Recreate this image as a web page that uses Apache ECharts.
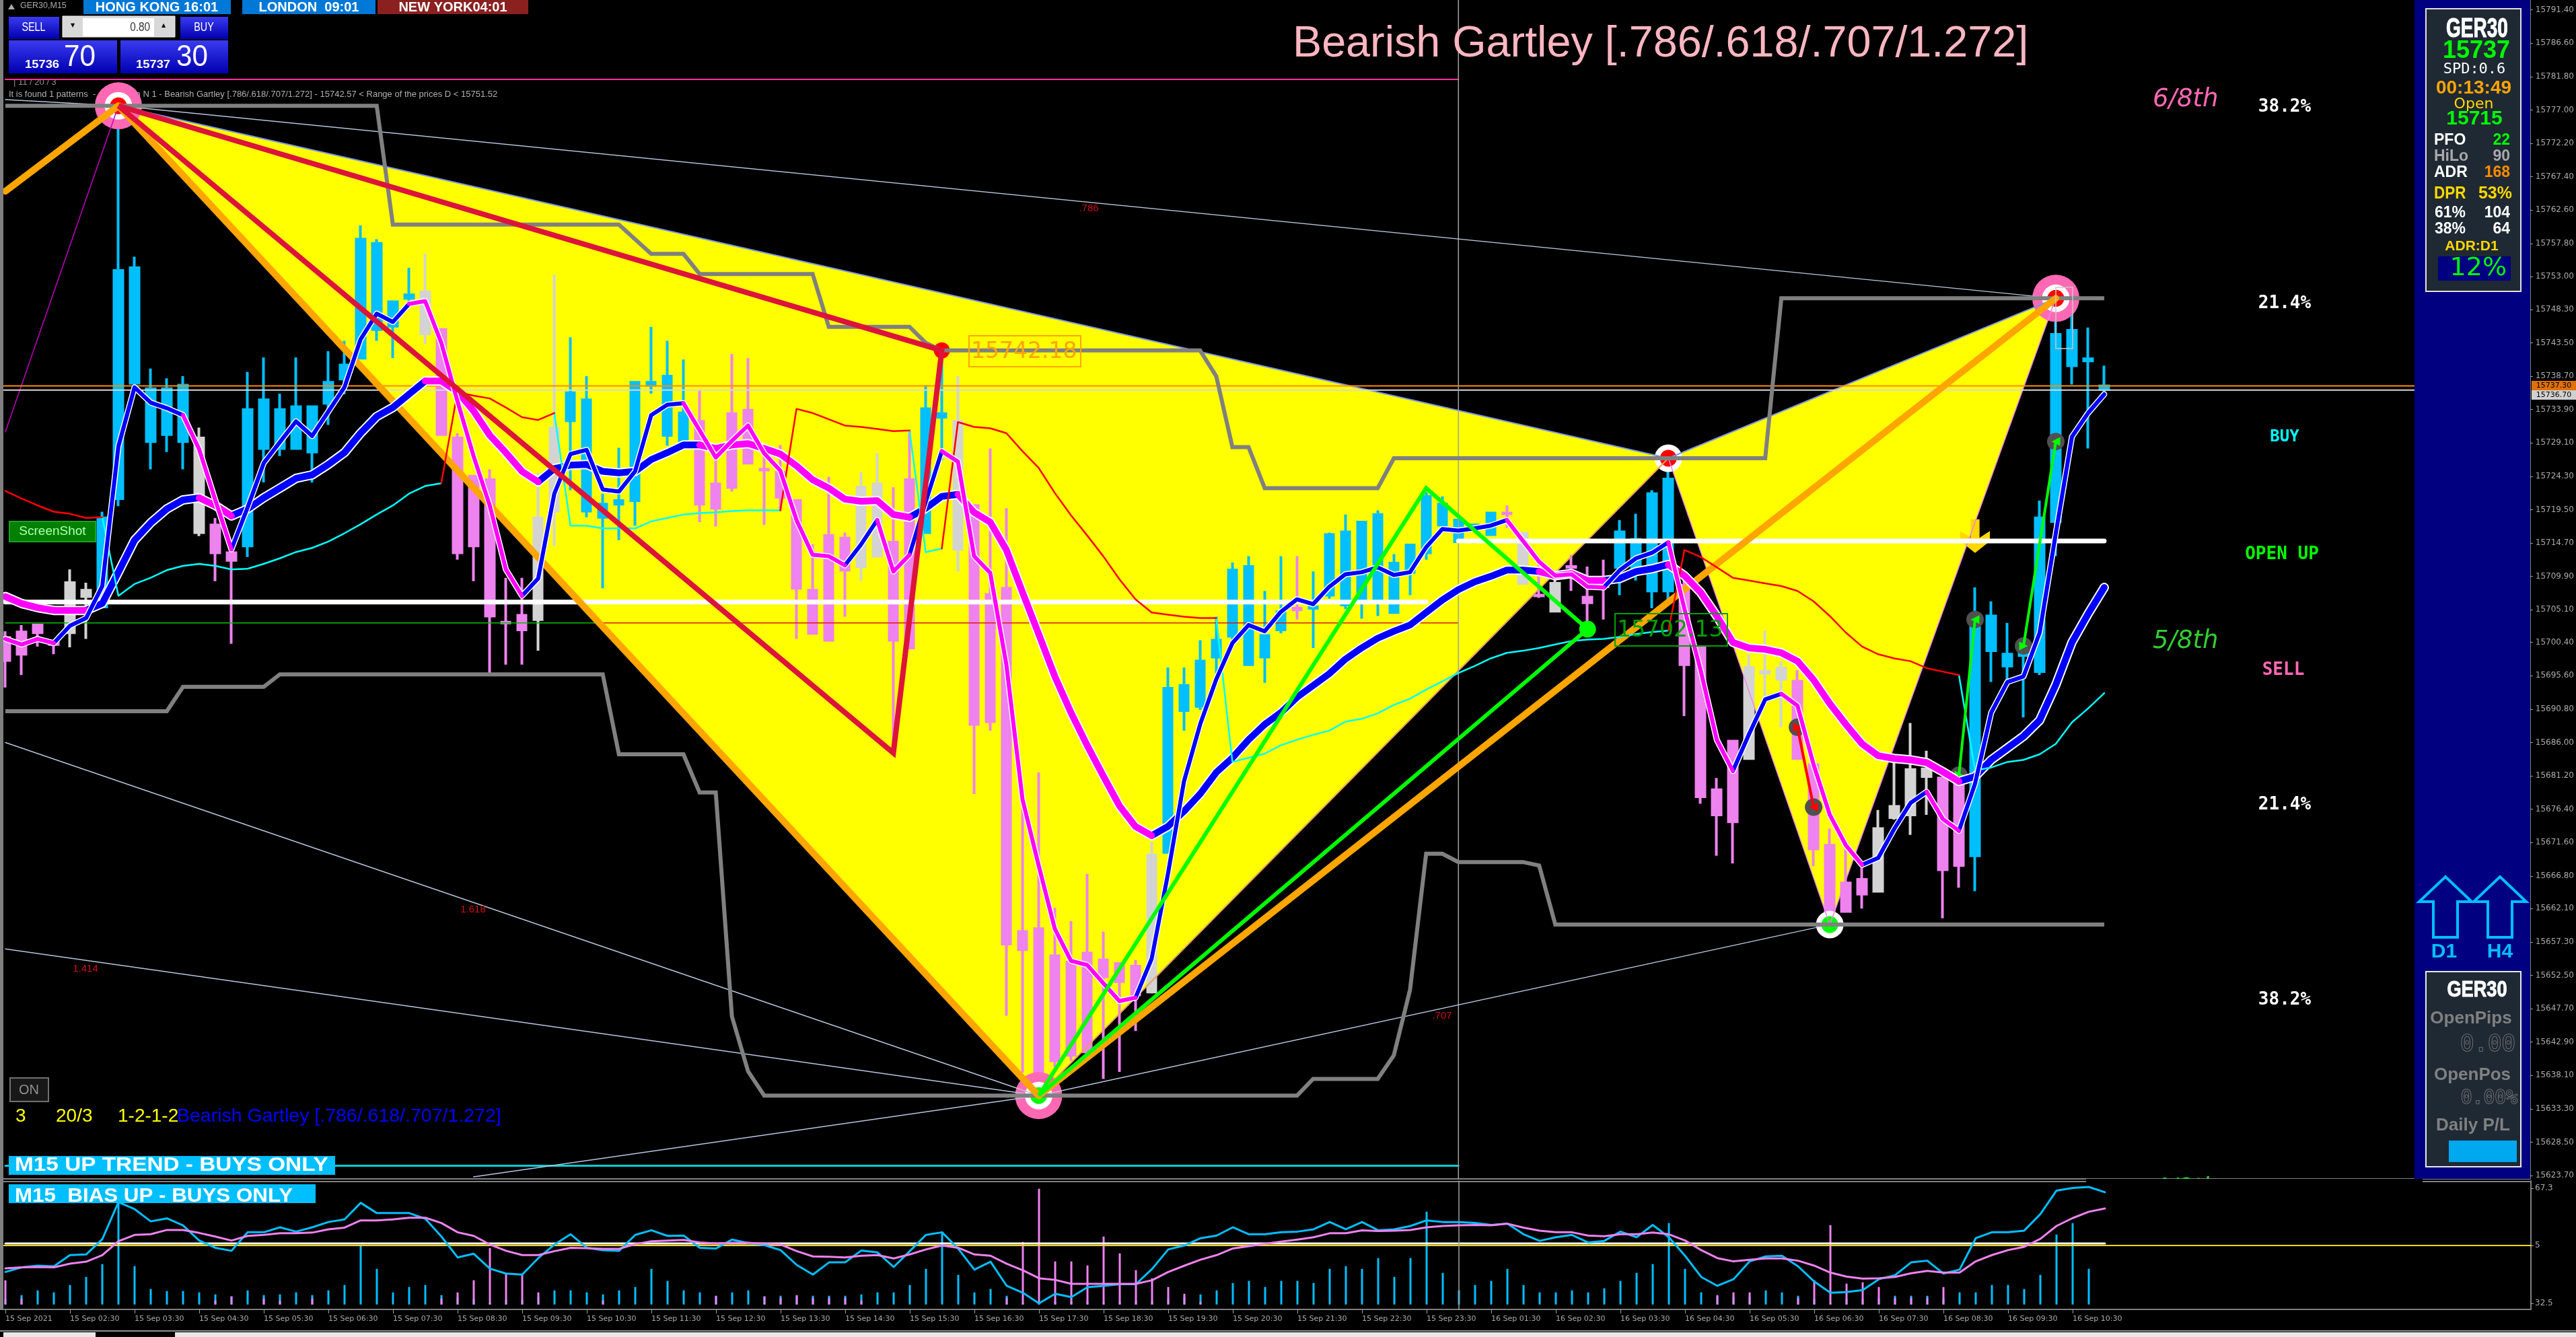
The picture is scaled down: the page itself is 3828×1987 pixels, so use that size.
<!DOCTYPE html>
<html><head><meta charset="utf-8">
<style>html,body{margin:0;padding:0;background:#000}#c{width:3828px;height:1987px}</style>
<script src="https://cdn.jsdelivr.net/npm/echarts@6/dist/echarts.min.js"></script>
</head><body><div id="c"></div>
<script>
const opens=[15701.1,15701.9,15702.9,15700.4,15701.8,15707.0,15705.5,15721.1,15737.7,15729.3,
15730.3,15729.3,15729.8,15717.3,15713.3,15714.3,15728.3,15728.3,15728.3,15727.8,
15734.8,15738.3,15741.3,15745.4,15745.9,15749.9,15750.8,15745.4,15729.8,15724.3,
15723.8,15703.3,15704.3,15703.7,15719.3,15732.3,15719.3,15718.4,15720.3,15720.8,
15737.4,15730.2,15729.4,15732.2,15723.2,15733.3,15733.8,15725.3,15724.9,15720.8,
15707.9,15715.8,15715.4,15722.7,15723.2,15714.8,15723.8,15716.2,15732.8,15732.2,
15720.1,15707.3,15708.2,15658.8,15659.2,15655.3,15654.4,15655.7,15654.7,15654.2,
15653.8,15669.8,15670.2,15690.6,15691.2,15698.3,15701.3,15697.2,15698.3,15702.2,
15705.3,15705.3,15707.2,15705.8,15706.2,15706.4,15704.7,15710.5,15713.3,15717.3,
15714.9,15717.0,15715.9,15719.0,15716.1,15707.2,15708.9,15711.3,15706.9,15708.5,
15711.2,15710.6,15707.8,15707.8,15708.6,15699.8,15679.2,15686.2,15696.8,15696.0,
15696.7,15694.8,15682.8,15671.2,15665.8,15666.3,15664.6,15675.2,15675.6,15681.1,
15680.9,15680.4,15669.7,15699.2,15697.0,15698.5,15696.2,15717.8,15740.2,15740.9,15736.8];
const closes=[15697.8,15698.7,15701.8,15700.1,15709.0,15707.9,15718.3,15753.9,15754.3,15736.9,
15736.9,15737.4,15716.2,15713.3,15712.2,15733.9,15735.3,15733.9,15734.3,15734.3,
15737.8,15740.3,15758.4,15757.8,15749.4,15750.4,15744.8,15730.3,15713.3,15714.3,
15704.2,15703.2,15702.2,15718.3,15731.2,15736.3,15735.3,15720.3,15720.8,15737.8,
15737.8,15738.7,15733.4,15720.3,15719.7,15722.7,15726.2,15725.2,15721.3,15708.2,
15701.7,15700.7,15710.8,15711.3,15712.8,15700.7,15699.6,15734.0,15733.3,15713.8,
15688.6,15689.0,15657.0,15656.2,15638.5,15640.2,15641.0,15641.5,15652.3,15651.6,
15649.7,15650.1,15693.8,15694.2,15697.7,15700.7,15710.8,15711.3,15701.4,15704.8,
15705.1,15705.5,15715.9,15716.3,15717.7,15718.8,15711.8,15714.4,15721.4,15720.3,
15718.0,15717.3,15719.0,15718.9,15708.9,15707.1,15704.9,15711.2,15706.1,15708.4,
15716.3,15715.2,15721.8,15723.9,15697.2,15678.2,15675.6,15674.6,15683.7,15696.2,
15695.1,15683.7,15670.7,15660.0,15661.7,15664.2,15673.6,15676.8,15682.1,15682.2,
15667.7,15668.3,15703.7,15704.2,15698.7,15699.8,15718.3,15744.7,15745.3,15741.2,15737.3];
const lows=[15693.9,15695.7,15699.8,15698.7,15699.7,15700.9,15705.3,15720.0,15737.1,15725.3,
15727.8,15725.3,15715.7,15709.2,15700.2,15712.7,15723.4,15727.2,15728.2,15723.4,
15731.7,15736.1,15741.3,15743.8,15741.3,15748.5,15743.3,15730.3,15712.3,15709.2,
15695.7,15697.2,15697.2,15699.2,15714.3,15722.3,15718.4,15708.2,15715.1,15717.2,
15736.2,15728.7,15729.2,15717.7,15717.1,15722.1,15726.2,15717.3,15719.3,15700.9,
15701.7,15700.7,15704.1,15709.3,15712.8,15685.6,15699.6,15716.2,15726.6,15710.6,
15678.6,15687.7,15646.7,15638.5,15635.2,15639.3,15640.2,15641.0,15637.6,15638.6,
15644.5,15649.9,15670.2,15687.7,15690.7,15695.9,15700.7,15697.2,15694.6,15701.7,
15703.7,15699.6,15706.7,15705.2,15703.8,15704.2,15704.7,15707.2,15712.3,15717.3,
15714.9,15716.8,15715.9,15716.9,15708.9,15706.8,15704.9,15707.8,15702.8,15703.7,
15707.2,15709.3,15705.3,15705.9,15689.8,15677.2,15669.7,15668.6,15683.7,15691.6,
15688.2,15683.7,15668.2,15659.8,15661.7,15662.1,15664.6,15674.9,15672.7,15675.6,
15660.7,15665.1,15664.6,15694.7,15695.0,15689.6,15695.7,15712.8,15737.5,15728.3,15736.3];
const highs=[15702.0,15702.9,15702.9,15700.6,15710.9,15709.0,15719.2,15777.6,15755.9,15739.8,
15738.4,15738.7,15731.3,15718.3,15713.9,15739.3,15741.4,15736.2,15741.4,15734.3,
15742.3,15743.8,15760.4,15758.4,15749.5,15754.3,15756.3,15745.4,15730.5,15724.3,
15725.3,15709.7,15709.7,15724.8,15753.3,15744.3,15738.7,15721.8,15728.4,15737.8,
15745.8,15743.8,15741.1,15736.8,15726.6,15741.9,15741.3,15728.8,15728.8,15720.8,
15714.5,15724.2,15716.2,15724.9,15727.6,15722.7,15730.9,15737.4,15742.6,15738.7,
15720.1,15728.3,15719.7,15678.6,15681.7,15662.2,15660.3,15667.1,15658.8,15654.2,
15654.7,15671.7,15696.8,15696.8,15700.7,15704.1,15711.9,15712.8,15707.8,15712.8,
15712.8,15710.6,15716.2,15718.8,15717.7,15719.4,15713.1,15714.4,15722.0,15721.4,
15718.0,15717.5,15719.0,15720.1,15716.1,15711.6,15709.6,15713.0,15711.3,15712.3,
15718.0,15718.9,15722.3,15726.9,15710.6,15699.8,15680.9,15686.2,15698.7,15702.1,
15697.7,15696.4,15682.8,15673.6,15670.6,15668.2,15676.3,15683.1,15688.8,15684.8,
15680.9,15680.4,15708.3,15706.3,15703.2,15699.8,15720.8,15749.9,15748.3,15745.7,15740.2];
const greyBars=[4,5,12,26,33,34,53,54,59,71,94,96,108,109,110,116,117,118,119];
const fastMA=[15700.9,15700.1,15700.9,15700.3,15702.8,15703.9,15708.5,15728.6,15737.1,15734.9,
15734.1,15733.1,15728.2,15720.9,15713.8,15719.8,15726.2,15729.2,15732.2,15730.1,
15733.6,15737.1,15744.0,15747.7,15746.5,15749.1,15749.5,15743.5,15735.1,15727.2,
15720.1,15710.9,15707.1,15709.6,15721.8,15727.5,15728.1,15722.4,15722.1,15725.0,
15733.1,15734.6,15734.8,15730.9,15727.0,15729.4,15731.6,15727.6,15725.1,15718.0,
15713.0,15712.8,15711.5,15714.5,15718.0,15710.6,15713.0,15720.6,15727.9,15726.4,
15712.8,15710.4,15697.2,15677.8,15668.3,15659.2,15654.6,15654.0,15651.4,15648.8,
15649.3,15654.9,15667.0,15680.4,15688.6,15695.1,15700.3,15702.9,15702.0,15704.8,
15706.6,15705.9,15708.4,15710.2,15710.5,15711.2,15710.1,15710.5,15714.1,15716.7,
15716.5,15716.8,15717.2,15718.0,15715.0,15712.0,15710.0,15710.2,15708.4,15708.3,
15710.8,15712.5,15713.3,15714.8,15705.2,15696.4,15686.4,15681.9,15687.2,15692.2,
15693.0,15691.3,15682.8,15675.6,15671.2,15668.4,15669.4,15673.6,15677.3,15678.9,
15675.0,15673.3,15680.1,15690.3,15694.7,15695.5,15701.8,15716.1,15730.0,15733.4,15736.1];
const slowMA=[15707.0,15706.0,15705.4,15705.0,15705.0,15705.0,15706.0,15710.5,15715.1,15717.6,
15719.6,15720.9,15721.2,15720.1,15718.6,15719.6,15721.2,15722.6,15724.0,15724.5,
15726.0,15727.7,15730.5,15732.9,15734.2,15736.1,15738.0,15738.0,15736.5,15733.7,
15730.2,15727.7,15725.0,15723.5,15725.4,15725.9,15726.0,15725.0,15724.8,15725.0,
15726.7,15727.7,15728.8,15728.8,15728.3,15728.8,15729.0,15728.3,15727.5,15725.8,
15723.8,15722.6,15721.0,15720.7,15720.8,15718.8,15718.4,15719.7,15721.4,15721.7,
15719.1,15717.7,15713.7,15707.6,15701.6,15695.5,15690.3,15685.6,15681.2,15676.9,
15673.9,15672.6,15673.9,15676.1,15678.6,15681.7,15683.8,15686.4,15688.6,15690.3,
15692.5,15694.2,15695.9,15698.0,15699.6,15701.0,15702.0,15702.9,15704.7,15706.5,
15708.0,15709.1,15709.9,15710.8,15710.8,15710.6,15710.0,15710.3,15709.3,15709.3,
15709.6,15710.6,15711.0,15711.6,15710.0,15707.6,15704.2,15700.4,15699.6,15699.4,
15698.9,15697.7,15695.0,15691.6,15688.6,15685.8,15684.1,15683.7,15683.5,15683.1,
15681.8,15680.4,15681.1,15683.5,15685.2,15686.9,15689.2,15694.3,15700.4,15704.5,15708.3];
const flipLine=[15722.2,15721.1,15720.1,15719.2,15718.9,15718.3,15718.4,15707.1,15708.8,15709.7,
15710.8,15711.4,15711.7,15711.4,15710.9,15711.0,15711.7,15712.5,15713.4,15714.0,
15714.9,15716.1,15717.4,15718.8,15720.1,15721.8,15722.9,15723.3,15736.4,15735.9,
15735.5,15734.2,15732.8,15732.4,15733.4,15717.2,15717.2,15716.8,15716.8,15716.8,
15717.8,15718.3,15718.8,15719.0,15719.1,15719.3,15719.4,15719.4,15719.4,15734.0,
15733.4,15732.5,15731.6,15731.4,15731.1,15730.8,15730.9,15713.4,15713.9,15732.1,
15731.4,15731.2,15730.5,15727.9,15725.5,15721.9,15718.7,15715.8,15712.8,15709.5,
15706.6,15704.7,15704.4,15704.1,15703.9,15703.9,15683.2,15683.8,15684.4,15685.6,
15686.4,15687.1,15687.7,15689.0,15689.4,15690.2,15691.4,15692.3,15693.6,15694.8,
15696.0,15697.0,15698.1,15698.9,15699.2,15699.6,15700.1,15700.6,15700.8,15700.9,
15701.2,15701.6,15701.9,15702.1,15713.7,15712.7,15711.2,15709.7,15709.3,15708.9,
15708.5,15707.8,15706.3,15704.2,15701.8,15699.8,15698.7,15698.1,15697.7,15696.7,
15696.2,15695.7,15682.0,15682.4,15683.2,15683.5,15684.3,15685.8,15688.9,15690.9,15693.1];
const fastFallRanges=[[0,3],[11,14],[25,32],[42,52],[54,56],[58,70],[93,99],[103,107],[110,115],[119,121]];
const slowFallRanges=[[0,5],[12,14],[26,33],[43,56],[59,71],[95,99],[103,121]];
const flipRedRanges=[[0,6],[27,34],[48,56],[58,75],[103,121]];
const rsiFast=[42.0,43.4,43.9,43.7,47.1,47.3,51.9,63.1,61.0,57.3,58.2,56.1,51.5,49.3,48.4,54.0,54.0,55.5,54.2,55.5,
57.1,57.9,62.9,59.8,59.8,59.8,58.1,52.7,46.4,47.5,43.0,41.5,41.2,46.2,50.3,53.4,49.3,48.6,48.4,53.2,54.6,52.9,
53.0,49.3,49.1,51.8,50.7,50.1,48.6,44.1,41.2,44.9,44.9,48.5,47.9,43.5,48.3,53.2,54.0,49.0,42.7,45.1,37.8,35.7,32.5,35.4,34.4,37.4,37.8,38.3,38.3,
42.9,48.8,50.0,52.2,53.0,55.5,53.4,53.4,54.0,54.2,54.9,57.1,54.9,57.1,
54.6,54.9,55.9,57.6,57.1,57.1,56.8,56.2,56.6,53.4,51.4,52.5,53.2,50.9,51.4,54.2,52.5,56.2,52.5,46.9,40.5,37.8,39.8,45.2,46.7,46.9,43.7,39.1,35.7,35.9,36.5,39.8,41.0,44.9,45.4,41.5,42.7,52.2,54.0,54.0,54.5,59.5,66.6,67.4,67.7,66.1];
const rsiSlow=[43.1,43.4,43.5,43.4,44.5,45.1,47.1,51.3,53.2,53.4,54.7,54.7,53.8,52.7,51.5,52.9,53.2,53.7,53.7,53.9,
54.9,55.4,57.6,57.6,57.9,58.4,58.4,56.8,54.0,52.9,50.3,48.4,47.1,47.1,48.3,49.3,49.2,49.0,49.0,50.4,51.3,51.5,
51.7,50.9,50.6,50.8,50.8,50.5,50.3,48.3,46.7,46.6,46.4,46.9,47.1,46.1,47.3,48.8,50.0,49.3,47.3,46.9,44.5,42.5,40.1,39.6,38.4,38.4,38.4,38.4,38.4,
39.5,42.0,43.9,45.7,47.1,49.1,49.8,50.5,51.2,51.8,52.5,53.7,53.7,54.6,
54.4,54.5,54.7,55.5,55.9,56.1,56.2,56.1,56.6,55.4,54.5,54.0,54.0,53.0,52.8,53.4,53.4,53.9,53.4,51.5,48.6,46.2,45.2,45.7,46.1,46.1,45.4,43.9,41.8,40.6,40.0,40.1,40.5,41.6,42.3,41.8,41.8,45.2,47.1,48.6,49.6,52.0,55.9,58.3,60.2,61.2];
const volUp=[8,14,21,18,29,41,60,152,57,23,20,20,18,15,12,21,14,15,18,14,21,29,87,53,18,26,29,14,11,8,3,7,7,11,21,21,18,15,21,26,53,35,
21,18,12,18,21,12,13,12,13,13,13,15,18,18,29,53,107,44,18,23,13,3,2,5,5,5,3,5,6,6,9,11,15,21,32,35,26,35,35,32,53,57,53,
69,41,69,138,47,21,29,35,53,29,18,18,21,18,24,35,47,60,121,53,18,12,11,11,21,18,13,8,3,8,8,9,13,13,13,9,18,18,29,29,23,44,104,121,53,0];
const volDown=[36,9,0,0,0,0,0,0,0,0,0,0,0,6,12,0,9,6,0,9,0,0,0,0,0,0,0,9,18,36,84,46,46,18,0,0,0,6,0,0,0,0,
0,0,13,0,0,12,10,14,10,10,10,6,0,0,0,0,0,0,0,0,10,93,172,64,64,58,101,76,51,39,26,16,4,0,0,0,0,0,0,0,0,0,0,
0,0,0,0,0,0,0,0,0,0,0,0,0,0,0,0,0,0,0,0,0,14,18,18,0,0,10,36,118,31,33,26,10,10,10,26,0,0,0,0,0,0,0,0,0,0];
const priceTicks=[15791.40,15786.60,15781.80,15777.00,15772.20,15767.40,15762.60,15757.80,15753.00,15748.30,15743.50,15738.70,15733.90,15729.10,15724.30,15719.50,15714.70,15709.90,15705.10,15700.40,15695.60,15690.80,15686.00,15681.20,15676.40,15671.60,15666.80,15662.10,15657.30,15652.50,15647.70,15642.90,15638.10,15633.30,15628.50,15623.70];
const timeTicks=[0,4,8,12,16,20,24,28,32,36,40,44,48,52,56,60,64,68,72,76,80,84,88,92,96,100,104,108,112,116,120,124,128];
const timeLabels=['15 Sep 2021','15 Sep 02:30','15 Sep 03:30','15 Sep 04:30','15 Sep 05:30','15 Sep 06:30','15 Sep 07:30','15 Sep 08:30','15 Sep 09:30','15 Sep 10:30','15 Sep 11:30','15 Sep 12:30','15 Sep 13:30','15 Sep 14:30','15 Sep 15:30','15 Sep 16:30','15 Sep 17:30','15 Sep 18:30','15 Sep 19:30','15 Sep 20:30','15 Sep 21:30','15 Sep 22:30','15 Sep 23:30','16 Sep 01:30','16 Sep 02:30','16 Sep 03:30','16 Sep 04:30','16 Sep 05:30','16 Sep 06:30','16 Sep 07:30','16 Sep 08:30','16 Sep 09:30','16 Sep 10:30'];
const rsiTicks=[67.3,50,32.5];
const rsiTickLabels=['67.3','5','32.5'];
const pivotBar=[7,64,103,113,127];
const pivotPrice=[15777.6,15635.2,15726.9,15659.8,15749.9];
const crimsonLeg=[[7,15777.6],[55,15684.5],[58,15742.4],[7,15777.6]];
const limeLeg=[[64,15635.2],[88,15722.6],[98,15702.3],[64,15635.2]];
const upperBand=[[0,15777.6],[23,15777.6],[24,15760.5],[38,15760.5],[40,15756.3],[42,15756.3],[43,15753.4],[50,15753.4],[51,15745.8],[56,15745.8],[57,15743.5],[58,15742.4],[74,15742.4],[75,15738.7],[76,15728.5],[77,15728.5],[78,15722.6],[85,15722.6],[86,15726.9],[109,15726.9],[110,15749.9],[130,15749.9]];
const lowerBand=[[0,15690.5],[10,15690.5],[11,15694],[16,15694],[17,15695.8],[37,15695.8],[38,15684.3],[42,15684.3],[43,15678.8],[44,15678.8],[45,15646.6],[46,15638.7],[47,15635.2],[80,15635.2],[81,15637.6],[85,15637.6],[86,15641],[87,15650.4],[88,15670],[89,15670],[90,15668.8],[94,15668.8],[95,15668.3],[96,15659.8],[130,15659.8]];
const thinLines=[[[0,15778.5],[7,15777.6],[127,15749.9]],[[0,15686],[64,15635.2]],[[0,15656.3],[64,15635.2]],[[29,15623.5],[64,15635.2]],[[64,15635.2],[113,15659.8]]];
const levels={pink:15781.4,askLine:15737.3,bidLine:15736.7,dayLow:15706.2,dayOpen:15715.0,thinLow:15703.2,trend:15625.1};
const trades=[[[121,15681.3],[122,15703.7]],[[125,15699.9],[127,15729.3]]];
const lossTrade=[[111,15688.2],[112,15676.7]];

function pairs(a){return a.map((v,i)=>[i,v]);}
function inR(r,a,b){return r.some(q=>q[0]<=a&&b<=q[1]);}
function split(values,ranges){
  const on=[],off=[];let cur=null;
  for(let i=1;i<values.length;i++){
    const s=inR(ranges,i-1,i),t=s?on:off;
    if(cur!==s){if(t.length)t.push([i-1,null]);t.push([i-1,values[i-1]]);cur=s;}
    t.push([i,values[i]]);
  }
  return {on,off};
}
function ln(data,color,width,extra){return Object.assign({type:'line',data,showSymbol:false,silent:true,animation:false,
  lineStyle:{color,width,cap:'round',join:'round'},xAxisIndex:0,yAxisIndex:0},extra||{});}
function sub(data,color,width){return ln(data,color,width,{xAxisIndex:1,yAxisIndex:1});}
function dot(data,size,color,extra){return Object.assign({type:'scatter',data,symbolSize:size,silent:true,animation:false,itemStyle:{color,opacity:1},xAxisIndex:0,yAxisIndex:0},extra||{});}

const pv=i=>[pivotBar[i],pivotPrice[i]];
const fastS=split(fastMA,fastFallRanges),slowS=split(slowMA,slowFallRanges),flipS=split(flipLine,flipRedRanges);
const BLUE='#0000FF',MAG='#FF00FF',GREY='#808080';

const candleData=opens.map((o,i)=>{
  const d={value:[i,o,closes[i],lows[i],highs[i]]};
  if(greyBars.includes(i))d.itemStyle={color:'#D3D3D3',color0:'#D3D3D3',borderColor:'#D3D3D3',borderColor0:'#D3D3D3'};
  return d;
});

const series=[
 {type:'custom',silent:true,animation:false,xAxisIndex:0,yAxisIndex:0,data:[[0,1,2],[2,3,4]],
  renderItem:(p,api)=>{const pts=[0,1,2].map(k=>api.coord(pv(api.value(k))));
    return {type:'polygon',shape:{points:pts},style:{fill:'#FFFF00',stroke:null}};}},
 ln([pv(0),pv(2),pv(4)],'#7B96E8',2),
 ln([pv(2),pv(3),pv(4)],'#EE82EE',1.5),
 ln([pv(1),pv(2)],'#E8A060',2),
 ln([[0,15730.7],pv(0)],'#C000C0',1.5),
 ln([[0,levels.pink],[90,levels.pink]],'#FF3399',2),
 ln([[-1,levels.askLine],[156,levels.askLine]],'#FF8C00',2),
 ln([[-1,levels.bidLine],[156,levels.bidLine]],'#D8D8D8',2),
 ln([[0,levels.thinLow],[37,levels.thinLow]],'#00C000',1.5),
 ln([[37,levels.thinLow],[90,levels.thinLow]],'#D81818',1.5),
 ln([[0,levels.trend],[90,levels.trend]],'#00CED1',3),
 ln([[90,15623.22],[90,15792.82]],'#A0A0A0',1.5),
].concat(thinLines.map(d=>ln(d,'#B4C6DE',1.5)),[
 ln(upperBand,GREY,6,{lineStyle:{color:GREY,width:6,join:'miter'}}),
 ln(lowerBand,GREY,6,{lineStyle:{color:GREY,width:6,join:'miter'}}),
 ln([[0,levels.dayLow],[88,levels.dayLow]],'#FFFFFF',7),
 ln([[90,levels.dayOpen],[130,levels.dayOpen]],'#FFFFFF',7),
 ln([[0,15765.3],pv(0)],'#FFA500',10),
 ln([pv(0),pv(1)],'#FFA500',10),
 {type:'candlestick',data:candleData,barWidth:13,silent:true,animation:false,xAxisIndex:0,yAxisIndex:0,
  itemStyle:{color:'#00BFFF',color0:'#EE82EE',borderColor:'#00BFFF',borderColor0:'#EE82EE',borderWidth:4,borderColorDoji:'#EE82EE'}},
 ln([pv(1),pv(4)],'#FFA500',10),
 ln(pairs(slowMA),'#FFFFFF',14),
 ln(slowS.off,BLUE,10),
 ln(slowS.on,MAG,10),
 ln(flipS.off,'#00FFFF',2.5),
 ln(flipS.on,'#FF0000',2.5),
 ln(pairs(fastMA),'#FFFFFF',9),
 ln(fastS.off,BLUE,6),
 ln(fastS.on,MAG,6),
 ln(crimsonLeg,'#DC143C',8,{lineStyle:{color:'#DC143C',width:8,join:'miter'}}),
 dot([crimsonLeg[1]],[24,24],'#00FF00',{z:1}),
 ln(limeLeg,'#00FF00',6,{lineStyle:{color:'#00FF00',width:6,join:'miter'}}),
 dot([crimsonLeg[2]],[24,24],'#FF0000'),
 dot([limeLeg[1]],[24,24],'#FF0000',{z:1}),
 dot([limeLeg[2]],[25,25],'#00FF00'),
 dot(trades.flat().concat(lossTrade),[26,26],'#505050'),
]).concat(trades.map(d=>ln(d,'#00FF00',4)),[
 ln(lossTrade,'#FF0000',4),
 dot(trades.map(d=>d[0]),[13,13],'#00FF00',{symbol:'triangle',symbolRotate:-90}),
 dot(trades.map(d=>d[1]),[13,13],'#00FF00',{symbol:'triangle',symbolRotate:90}),
 dot([lossTrade[0]],[13,13],'#FF0000',{symbol:'triangle',symbolRotate:-90}),
 dot([lossTrade[1]],[13,13],'#FF0000',{symbol:'triangle',symbolRotate:90}),
 dot([[122,15715.7]],[44,50],'#FFD700',{symbol:'path://M35,0 L65,0 L65,55 L100,35 L100,65 L50,100 L0,65 L0,35 L35,55 Z'}),
 dot([pv(0),pv(1),pv(4)],[70,70],'#FF69B4'),
 dot([pv(0),pv(1),pv(2),pv(3),pv(4)],[41,41],'#FFFFFF'),
 dot([pv(0),pv(2),pv(4)],[25,25],'#FF0000'),
 dot([pv(1),pv(3)],[25,25],'#00FF00'),
 {type:'bar',data:pairs(volUp),stack:'vol',barWidth:3,silent:true,animation:false,xAxisIndex:1,yAxisIndex:2,itemStyle:{color:'#00BFFF'}},
 {type:'bar',data:pairs(volDown),stack:'vol',barWidth:3,silent:true,animation:false,xAxisIndex:1,yAxisIndex:2,itemStyle:{color:'#EE82EE'}},
 sub([[0,50.6],[130,50.6]],'#FFFFFF',3),
 sub([[-1,50],[157,50]],'#FFD700',2),
 sub([[90,30.67],[90,69.54]],'#A0A0A0',1.5),
 sub(pairs(rsiFast),'#00BFFF',3),
 sub(pairs(rsiSlow),'#EE82EE',3),
]);

const G=[];
function R(x,y,w,h,fill,stroke,lw,z){G.push({type:'rect',shape:{x,y,width:w,height:h},style:{fill:fill||'none',stroke:stroke||null,lineWidth:lw||0},z:z||60,silent:true});}
function T(x,y,text,color,font,size,o){o=o||{};G.push({type:'text',x,y,z:o.z||61,silent:true,scaleX:o.sx||1,style:{text,fill:color,
  font:(o.style?o.style+' ':'')+(o.weight?o.weight+' ':'')+size+'px "'+font+'"',textAlign:o.align||'left',textVerticalAlign:'middle',stroke:o.stroke,lineWidth:o.lw||0}});}
const SANS='Liberation Sans',MONO='DejaVu Sans Mono',DJ='DejaVu Sans';

// left border and bottom bar
R(0,0,5,1946,'#808080');
R(0,1977,3828,2,'#909090');R(5,1980,137,7,'#E8E8E8');R(260,1980,3568,7,'#E8E8E8');
R(5,1755,3756,2,'#808080',null,0,3);

// chart-window text
T(30,9,'GER30,M15','#A9A9A9',SANS,12.5);
G.push({type:'polygon',shape:{points:[[12,14],[22,14],[17,6]]},style:{fill:'#A9A9A9'},z:61,silent:true});
R(124,0,219,21,'#0078D7');R(360,0,198,21,'#0078D7');R(561,0,224,21,'#8B2020');
T(233,11,'HONG KONG 16:01','#FFFFFF',SANS,20,{align:'center',weight:'bold',sx:1});
T(459,11,'LONDON  09:01','#FFFFFF',SANS,20,{align:'center',weight:'bold',sx:1});
T(673,11,'NEW YORK04:01','#FFFFFF',SANS,20,{align:'center',weight:'bold',sx:1});
const blueGrad={type:'linear',x:0,y:0,x2:0,y2:1,colorStops:[{offset:0,color:'#3A3AF0'},{offset:1,color:'#0000B0'}]};
R(13,25,75,33,blueGrad);R(268,25,71,33,blueGrad);
R(13,60,161,49,blueGrad);R(179,60,160,49,blueGrad);
R(93,24,167,31,'#D8D8D8','#F0F0F0',1);R(123,27,106,27,'#FFFFFF');
T(50,41,'SELL','#FFFFFF',SANS,18,{align:'center',sx:.8});
T(303,41,'BUY','#FFFFFF',SANS,18,{align:'center',sx:.8});
T(223,41,'0.80','#303030',SANS,18,{align:'right',sx:.85});
T(108,38,'▼','#000',DJ,8,{align:'center'});T(243,38,'▲','#000',DJ,8,{align:'center'});
T(37,96,'15736','#FFFFFF',SANS,17,{weight:'bold',sx:1.08});T(95,86,'70','#FFFFFF',SANS,44,{sx:.96});
T(202,96,'15737','#FFFFFF',SANS,17,{weight:'bold',sx:1.08});T(262,86,'30','#FFFFFF',SANS,44,{sx:.96});
T(20,122,'| 11 / 20 / 3','#909090',SANS,13,{z:1});
T(13,140,'It is found 1 patterns  -  for pattern N 1 - Bearish Gartley [.786/.618/.707/1.272] - 15742.57 < Range of the prices D < 15751.52','#B0B0B0',SANS,13,{z:1});
R(14,775,128,30,'#008000','#20A020',2);T(78,790,'ScreenShot','#B0FFB0',SANS,19,{align:'center'});
R(15,1602,57,35,'#181818','#707070',2);T(43,1620,'ON','#909090',SANS,20,{align:'center'});
T(23,1659,'3','#FFFF00',SANS,28);T(83,1659,'20/3','#FFFF00',SANS,28);T(175,1659,'1-2-1-2','#FFFF00',SANS,28);
T(263,1659,'Bearish Gartley [.786/.618/.707/1.272]','#0000FF',SANS,28.5);
R(13,1718,485,28,'#00BFFF');T(22,1732,'M15 UP TREND - BUYS ONLY','#FFFFFF',SANS,29,{weight:'bold',sx:1.15});
R(13,1760,456,28,'#00BFFF');T(22,1778,'M15  BIAS UP - BUYS ONLY','#FFFFFF',SANS,29,{weight:'bold',sx:1.08});
T(1618,310,'.786','#D01010',SANS,15,{align:'center'});T(703,1352,'1.618','#D01010',SANS,15,{align:'center'});
T(127,1440,'1.414','#D01010',SANS,15,{align:'center'});T(2143,1510,'.707','#D01010',SANS,15,{align:'center'});
R(1440,499,166,46,null,'#FFA500',2);T(1443,523,'15742.18','#FFA500',DJ,33);
R(2400,912,167,48,null,'#00A000',2);T(2403,937,'15702.13','#00A000',DJ,33);
R(3055,427,25,91,null,'#C8C8C8',1.5);
T(3199,148,'6/8th','#FF69B4',DJ,37,{style:'italic'});
T(3199,953,'5/8th','#32CD32',DJ,37,{style:'italic'});
T(3199,1767,'4/8th','#32CD32',DJ,37,{style:'italic',z:2});
R(3100,1752,500,30,'#000',null,0,3);
for(const [y,t] of [[159,'38.2%'],[451,'21.4%'],[1196,'21.4%'],[1486,'38.2%']])T(3395,y,t,'#FFFFFF',MONO,26,{align:'center',weight:'bold'});
T(3395,650,'BUY','#00FFFF',MONO,24,{align:'center',weight:'bold'});
T(3391,824,'OPEN UP','#00FF00',MONO,26,{align:'center',weight:'bold'});
T(3393,996,'SELL','#FF69B4',MONO,26,{align:'center',weight:'bold'});

// navy side panel
R(3588,0,172,1752,'#000080');
R(3605,13,141,420,'#1F2933','#E0E0E0',2);
T(3681,44,'GER30','#FFFFFF',SANS,40,{align:'center',weight:'bold',sx:.7,stroke:'#FFFFFF',lw:1});
T(3680,76,'15737','#00FF00',SANS,36,{align:'center',weight:'bold'});
T(3677,103,'SPD:0.6','#FFFFFF',MONO,22,{align:'center'});
T(3676,131,'00:13:49','#FFA500',SANS,28,{align:'center',weight:'bold'});
T(3676,155,'Open','#FFD700',DJ,22,{align:'center'});
T(3677,177,'15715','#00FF00',SANS,30,{align:'center',weight:'bold'});
for(const [y,a,b,c1,c2] of [[209,'PFO','22','#FFFFFF','#00FF00'],[233,'HiLo','90','#A9A9A9','#A9A9A9'],[257,'ADR','168','#FFFFFF','#FF8C00']]){
  T(3617,y,a,c1,SANS,23,{weight:'bold'});T(3730,y,b,c2,SANS,23,{align:'right',weight:'bold'});}
T(3617,288,'DPR','#FFD700',SANS,25,{weight:'bold',sx:.9});T(3733,288,'53%','#FFD700',SANS,25,{align:'right',weight:'bold'});
for(const [y,a,b] of [[317,'61%','104'],[341,'38%','64']]){T(3618,y,a,'#FFFFFF',SANS,23,{weight:'bold'});T(3730,y,b,'#FFFFFF',SANS,23,{align:'right',weight:'bold'});}
T(3673,366,'ADR:D1','#FFD700',SANS,21,{align:'center',weight:'bold'});
R(3623,381,108,36,'#000080');T(3725,399,'12%','#00FF00',DJ,38,{align:'right'});
for(const a of [[3634,3595,3673,3616,3652],[3715,3676,3754,3697,3733]])
  G.push({type:'polygon',z:61,silent:true,shape:{points:[[a[0],1303],[a[2],1340],[a[4],1340],[a[4],1393],[a[3],1393],[a[3],1340],[a[1],1340]]},style:{fill:'none',stroke:'#00BFFF',lineWidth:4}});
T(3632,1415,'D1','#00BFFF',SANS,30,{align:'center',weight:'bold'});
T(3715,1415,'H4','#00BFFF',SANS,30,{align:'center',weight:'bold'});
R(3605,1444,141,290,'#1F2933','#E8E8E8',2);
T(3681,1472,'GER30','#FFFFFF',SANS,34,{align:'center',weight:'bold',sx:.8,stroke:'#FFFFFF',lw:1});
T(3672,1514,'OpenPips','#808080',SANS,26,{align:'center',weight:'bold'});
T(3738,1553,'0.00','#1F2933',MONO,34,{align:'right',stroke:'#808080',lw:1.5});
T(3674,1598,'OpenPos','#808080',SANS,26,{align:'center',weight:'bold'});
T(3741,1633,'0.00%','#1F2933',MONO,28,{align:'right',stroke:'#808080',lw:1.5});
T(3675,1673,'Daily P/L','#808080',SANS,26,{align:'center',weight:'bold'});
R(3639,1695,101,32,'#00A8F0');
// price tags
R(3762,566,66,14,'#E07000');T(3795,573,'15737.30','#000000',DJ,11,{align:'center'});
R(3762,580,66,14,'#D0D0D0');T(3795,587,'15736.70','#000000',DJ,11,{align:'center'});

const option={
 backgroundColor:'#000',animation:false,
 title:{text:'Bearish Gartley [.786/.618/.707/1.272]',left:1916,top:29,textStyle:{color:'#FFB6C1',fontFamily:SANS,fontSize:64.7,fontWeight:'normal'},z:60},
 grid:[{left:0,top:0,width:3761,height:1752},{left:0,top:1755,width:3761,height:191}],
 xAxis:[
  {type:'value',gridIndex:0,min:-1/3,max:156.375,splitLine:{show:false},axisTick:{show:false},axisLabel:{show:false},axisLine:{show:true,onZero:false,lineStyle:{color:GREY,width:2}}},
  {type:'value',gridIndex:1,min:-1/3,max:156.375,splitLine:{show:false},
   axisLine:{show:true,onZero:false,lineStyle:{color:GREY,width:2}},
   axisTick:{show:true,length:6,customValues:timeTicks,lineStyle:{color:'#A0A0A0'}},
   axisLabel:{customValues:timeTicks,margin:9,align:'left',color:'#A9A9A9',fontFamily:DJ,fontSize:11,formatter:v=>timeLabels[timeTicks.indexOf(v)]||''}}
 ],
 yAxis:[
  {type:'value',gridIndex:0,position:'right',min:15623.22,max:15792.82,splitLine:{show:false},
   axisLine:{show:true,onZero:false,lineStyle:{color:GREY,width:2}},
   axisTick:{show:true,length:4,customValues:priceTicks,lineStyle:{color:'#A9A9A9'}},
   axisLabel:{customValues:priceTicks,margin:8,color:'#A9A9A9',fontFamily:DJ,fontSize:12,formatter:v=>v.toFixed(2)}},
  {type:'value',gridIndex:1,position:'right',min:30.67,max:69.54,splitLine:{show:false},
   axisLine:{show:true,onZero:false,lineStyle:{color:GREY,width:2}},
   axisTick:{show:true,length:4,customValues:rsiTicks,lineStyle:{color:'#A9A9A9'}},
   axisLabel:{customValues:rsiTicks,margin:6,color:'#A9A9A9',fontFamily:DJ,fontSize:12,formatter:v=>rsiTickLabels[rsiTicks.indexOf(v)]||''}},
  {type:'value',gridIndex:1,show:false,min:-7.3,max:183.7,splitLine:{show:false}}
 ],
 series,
 graphic:{elements:G}
};
const chart=echarts.init(document.getElementById('c'),null,{renderer:'canvas',width:3828,height:1987});
chart.setOption(option);
</script></body></html>
